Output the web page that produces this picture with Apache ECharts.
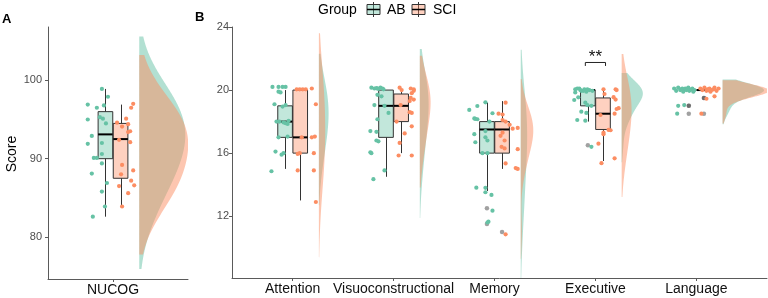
<!DOCTYPE html>
<html><head><meta charset="utf-8">
<script src="https://cdn.jsdelivr.net/npm/echarts@6/dist/echarts.min.js"></script>
<style>html,body{margin:0;padding:0;background:#fff}#c{width:768px;height:298px}</style>
</head><body><div id="c"></div>
<script>
// ---------------- data ----------------
const groups = ['AB', 'SCI'];
const categoriesA = ['NUCOG'];
const categoriesB = ['Attention', 'Visuoconstructional', 'Memory', 'Executive', 'Language'];
const yTicksA = [80, 90, 100];
const yTicksB = [12, 16, 20, 24];

// individual scores as seen (jittered) + horizontal jitter (hundredths of a category step)
const NUCOG_AB = [98.9, 97.9, 96.9, 96.8, 96.5, 95.3, 95.1, 95.0, 94.5, 92.9, 92.0, 91.9, 90.6, 90.1, 90.1, 89.4, 88.1, 86.9, 85.8, 83.9, 82.6];
const NUCOG_AB_jit = [-11, -5, -25, -9, -16, -13, -10, -25, -7, -21, -11, -25, -11, -19, -16, -11, -21, -6, -11, -8, -20];
const NUCOG_SCI = [97.0, 96.5, 95.1, 94.6, 94.4, 94.1, 93.5, 93.4, 92.4, 92.1, 89.2, 88.5, 88.0, 87.2, 86.6, 86.5, 85.6, 83.9];
const NUCOG_SCI_jit = [20, 18, 13, 4, 15, 9, 17, 15, 6, 17, 9, 20, 8, 18, 21, 6, 15, 9];

const ATT_AB = [20.2, 20.2, 20.2, 20.2, 19.9, 19.85, 19.1, 19.05, 18.95, 18.0, 18.0, 17.95, 17.9, 18.05, 17.85, 17.0, 17.05, 16.1, 16.0, 15.9, 14.85];
const ATT_AB_jit = [-20, -14, -10, -7, -14, -12, -18, -7, -10, -16, -13, -9, -7, -4, -5, -14, -5, -17, -9, -11, -21];
const ATT_SCI = [20.05, 20.05, 20.05, 20.05, 20.1, 19.1, 17.05, 17.0, 17.0, 16.0, 15.95, 16.0, 14.9, 14.9, 12.9];
const ATT_SCI_jit = [4, 7, 10, 13, 19, 23, 22, 19, 9, 7, 5, 21, 5, 21, 23];

const VIS_AB = [20.15, 20.1, 20.12, 20.08, 20.15, 20.1, 20.05, 20.1, 19.7, 19.6, 19.05, 19.0, 18.55, 18.15, 17.4, 17.35, 16.8, 16.75, 16.05, 16.0, 14.9, 14.35];
const VIS_AB_jit = [-22, -19, -17, -15, -13, -11, -10, -16, -16, -12, -19, -9, -5, -16, -23, -17, -17, -15, -23, -22, -9, -20];
const VIS_SCI = [20.15, 20.1, 20.05, 20.0, 19.95, 19.8, 19.5, 19.4, 19.3, 19.05, 18.6, 18.55, 18.0, 17.7, 17.25, 16.65, 15.85, 15.85];
const VIS_SCI_jit = [6, 17, 20, 8, 20, 18, 17, 20, 16, 7, 16, 18, 3, 18, 11, 6, 5, 18];

const MEM_AB = [19.22, 18.99, 18.74, 18.53, 18.2, 18.17, 18.15, 18.0, 17.4, 17.2, 17.0, 16.8, 16.69, 16.0, 16.0, 13.81, 13.8, 13.52, 13.35, 12.35, 11.65, 11.6];
const MEM_AB_jit = [-9, -17, -25, -2, -20, -19, -17, -5, -9, -20, -9, -7, -19, -7, -12, -18, -9, -9, -3, -2, -6, -7];
const MEM_SCI = [19.2, 18.5, 18.45, 18.1, 18.0, 17.8, 17.6, 17.55, 17.3, 17.1, 16.8, 16.4, 16.3, 16.25, 15.35, 15.0, 15.05, 10.85];
const MEM_SCI_jit = [11, 4, 8, 8, 11, 15, 23, 18, 8, 6, 10, 7, 10, 23, 11, 23, 21, 11];

const EXE_AB = [20.05, 20.1, 20.0, 19.95, 20.05, 20.0, 19.95, 19.85, 19.9, 20.1, 19.95, 20.05, 19.54, 19.37, 19.2, 19.05, 19.0, 18.63, 18.55, 18.1, 18.06, 16.4];
const EXE_AB_jit = [-20, -18, -15, -14, -11, -6, -3, -20, -9, -16, -12, -8, -17, -21, -10, -8, -4, -14, -9, -18, -10, -4];
const EXE_SCI = [20.05, 20.05, 20.0, 19.75, 19.55, 19.4, 18.85, 18.8, 18.5, 18.42, 17.47, 17.45, 17.3, 17.2, 16.6, 15.67, 15.36];
const EXE_SCI_jit = [8, 20, 21, 9, 18, 20, 23, 21, 19, 5, 13, 15, 8, 8, 3, 19, 6];

const LAN_AB = [20.1, 19.95, 20.15, 20.0, 20.05, 19.9, 20.1, 20.0, 20.15, 19.95, 20.05, 20.1, 19.9, 20.0, 20.1, 20.05, 19.0, 19.05, 18.5];
const LAN_AB_jit = [-22, -20, -18, -16, -15, -13, -11, -10, -8, -7, -5, -4, -3, -2, -14, -9, -18, -12, -19];
const LAN_SCI = [20.1, 20.0, 20.15, 19.95, 20.05, 20.1, 19.9, 20.0, 20.05, 20.15, 19.95, 20.1, 20.0, 19.6, 19.45, 18.5];
const LAN_SCI_jit = [4, 6, 8, 10, 11, 13, 14, 15, 17, 18, 20, 22, 12, 18, 10, 5];

// boxplot statistics: [lower whisker, Q1, median, Q3, upper whisker]
const NUCOG_AB_box = [82.6, 90.0, 93.1, 96.0, 98.9];
const NUCOG_SCI_box = [83.9, 87.5, 92.5, 94.5, 96.9];
const ATT_AB_box = [15, 17, 18, 19, 20];
const ATT_SCI_box = [13, 16, 17, 20, 20];
const VIS_AB_box = [14.5, 17, 19, 20, 20];
const VIS_SCI_box = [16, 18, 19, 19.75, 20];
const MEM_AB_box = [13.6, 16, 17.5, 18, 19.2];
const MEM_SCI_box = [15, 16, 17.5, 18, 19.3];
const EXE_AB_box = [18, 19, 20, 20, 20];
const EXE_SCI_box = [15.5, 17.5, 18.5, 19.5, 20];
const LAN_AB_box = [20, 20, 20, 20, 20];
const LAN_SCI_box = [20, 20, 20, 20, 20];

// outliers
const MEM_AB_out = [12.5, 11.5];
const MEM_SCI_out = [11.0];
const EXE_AB_out = [16.5];
const LAN_AB_out = [19, 19, 18.5];
const LAN_SCI_out = [19.5, 19.5, 18.5];

// significance
const SIG_CATEGORY = 'Executive';
const SIG_LABEL = '**';

// ---------------- build ----------------
const COL = ['#66C2A5', '#FC8D62'];
const FILL_BOX = ['rgba(102,194,165,0.4)', 'rgba(252,141,98,0.4)'];
const FILL_VIO = ['rgba(102,194,165,0.5)', 'rgba(252,141,98,0.5)'];
const FONT = "'Liberation Sans', Arial, sans-serif";
const ADJUST = 2; // density bandwidth adjustment (as in the raincloud recipe)

const panels = [
  { cats: categoriesA, xmin: 0.356, xmax: 1.743, ymin: 74.65, ymax: 106.8, yticks: yTicksA, vw: 0.485,
    data: [[
      { v: NUCOG_AB, j: NUCOG_AB_jit, b: NUCOG_AB_box, o: [] },
      { v: NUCOG_SCI, j: NUCOG_SCI_jit, b: NUCOG_SCI_box, o: [] }]] },
  { cats: categoriesB, xmin: 0.399, xmax: 5.70, ymin: 8.08, ymax: 24, yticks: yTicksB, vw: 0.46,
    data: [
      [{ v: ATT_AB, j: ATT_AB_jit, b: ATT_AB_box, o: [] }, { v: ATT_SCI, j: ATT_SCI_jit, b: ATT_SCI_box, o: [] }],
      [{ v: VIS_AB, j: VIS_AB_jit, b: VIS_AB_box, o: [] }, { v: VIS_SCI, j: VIS_SCI_jit, b: VIS_SCI_box, o: [] }],
      [{ v: MEM_AB, j: MEM_AB_jit, b: MEM_AB_box, o: MEM_AB_out }, { v: MEM_SCI, j: MEM_SCI_jit, b: MEM_SCI_box, o: MEM_SCI_out }],
      [{ v: EXE_AB, j: EXE_AB_jit, b: EXE_AB_box, o: EXE_AB_out }, { v: EXE_SCI, j: EXE_SCI_jit, b: EXE_SCI_box, o: [] }],
      [{ v: LAN_AB, j: LAN_AB_jit, b: LAN_AB_box, o: LAN_AB_out }, { v: LAN_SCI, j: LAN_SCI_jit, b: LAN_SCI_box, o: LAN_SCI_out }]] }
];

function quantile(s, p) { const h = (s.length - 1) * p, l = Math.floor(h); return s[l] + (h - l) * ((s[Math.min(l + 1, s.length - 1)]) - s[l]); }
function kde(vals) {
  // scores are recorded in half points: remove the visual jitter before the density
  const x = vals.map(v => Math.round(v * 2) / 2).sort((a, b) => a - b);
  const n = x.length, mean = x.reduce((a, b) => a + b, 0) / n;
  const sd = Math.sqrt(x.reduce((a, b) => a + (b - mean) ** 2, 0) / (n - 1));
  const iqr = quantile(x, 0.75) - quantile(x, 0.25);
  let lo = Math.min(sd, iqr / 1.34); if (!lo) lo = sd || Math.abs(x[0]) || 1;
  const bw = 0.9 * lo * Math.pow(n, -0.2);
  const bwa = bw * ADJUST;
  const from = x[0] - 3 * bw, to = x[n - 1] + 3 * bw, N = 200;
  const ys = [], ds = [];
  for (let i = 0; i < N; i++) {
    const y = from + (to - from) * i / (N - 1);
    let s = 0; for (const xi of x) { const z = (y - xi) / bwa; s += Math.exp(-0.5 * z * z); }
    ys.push(y); ds.push(s / (n * bwa * Math.sqrt(2 * Math.PI)));
  }
  return { ys, ds };
}

const DODGE = 0.075, BOXW = 0.145, VOFF = 0.26;
const series = [];
const grids = [], xAxes = [], yAxes = [];
panels.forEach((P, pi) => {
  const left = pi === 0 ? 48 : 232, width = pi === 0 ? 140 : 535, height = pi === 0 ? 252 : 251;
  grids.push({ left, top: 27, width, height });
  xAxes.push({ type: 'value', gridIndex: pi, min: P.xmin, max: P.xmax,
    axisLine: { show: true, lineStyle: { color: '#5a5a5a', width: 1 } },
    axisTick: { show: true, length: 3, lineStyle: { color: '#5a5a5a' }, customValues: P.cats.map((c, i) => i + 1) },
    axisLabel: { show: true, margin: 4, color: '#111', fontSize: 14, fontFamily: FONT,
      customValues: P.cats.map((c, i) => i + 1), formatter: v => P.cats[Math.round(v) - 1] || '' },
    splitLine: { show: false } });
  yAxes.push({ type: 'value', gridIndex: pi, min: P.ymin, max: P.ymax,
    axisLine: { show: true, lineStyle: { color: '#5a5a5a', width: 1 } },
    axisTick: { show: true, length: 3, lineStyle: { color: '#5a5a5a' }, customValues: P.yticks },
    axisLabel: { show: true, margin: pi === 0 ? 6 : 3, color: '#4d4d4d', fontSize: 11, fontFamily: FONT, customValues: P.yticks },
    splitLine: { show: false } });

  // violins
  const vio = [];
  P.data.forEach((cat, ci) => cat.forEach((g, gi) => { const k = kde(g.v); vio.push({ cat: ci + 1, g: gi, ys: k.ys, ds: k.ds }); }));
  const maxD = Math.max(...vio.map(v => Math.max(...v.ds)));
  series.push({ type: 'custom', xAxisIndex: pi, yAxisIndex: pi, clip: true, z: 1,
    data: vio.map((v, i) => [v.cat, v.ys[0], i]), encode: { x: 0, y: 1 },
    renderItem: (params, api) => {
      const v = vio[api.value(2)];
      const x0 = v.cat + VOFF;
      const pts = [api.coord([x0, v.ys[0]])];
      for (let i = 0; i < v.ys.length; i++) pts.push(api.coord([x0 + v.ds[i] / maxD * P.vw, v.ys[i]]));
      pts.push(api.coord([x0, v.ys[v.ys.length - 1]]));
      return { type: 'polygon', shape: { points: pts }, style: { fill: FILL_VIO[v.g], stroke: null } };
    } });

  // boxes
  const boxes = [];
  P.data.forEach((cat, ci) => cat.forEach((g, gi) => boxes.push([ci + 1 + (gi === 0 ? -DODGE : DODGE), ...g.b, gi])));
  series.push({ type: 'custom', xAxisIndex: pi, yAxisIndex: pi, z: 2,
    data: boxes, encode: { x: 0, y: [1, 2, 3, 4, 5] },
    renderItem: (params, api) => {
      const x = api.value(0), lo = api.value(1), q1 = api.value(2), md = api.value(3), q3 = api.value(4), hi = api.value(5), g = api.value(6);
      const L = api.coord([x - BOXW / 2, q3]), R = api.coord([x + BOXW / 2, q1]);
      const c = api.coord([x, md]);
      const pLo = api.coord([x, lo]), pHi = api.coord([x, hi]);
      const cx = Math.round(c[0]) + 0.5;
      return { type: 'group', children: [
        { type: 'line', shape: { x1: cx, y1: L[1], x2: cx, y2: pHi[1] }, style: { stroke: '#333', lineWidth: 1 } },
        { type: 'line', shape: { x1: cx, y1: R[1], x2: cx, y2: pLo[1] }, style: { stroke: '#333', lineWidth: 1 } },
        { type: 'rect', shape: { x: L[0], y: L[1], width: R[0] - L[0], height: Math.max(R[1] - L[1], 0.01) },
          style: { fill: FILL_BOX[g], stroke: '#333', lineWidth: 1 } },
        { type: 'line', shape: { x1: L[0], y1: c[1], x2: R[0], y2: c[1] }, style: { stroke: '#000', lineWidth: 2 } }
      ] };
    } });

  // outliers
  const outs = [];
  P.data.forEach((cat, ci) => cat.forEach((g, gi) => g.o.forEach(v => outs.push([ci + 1 + (gi === 0 ? -DODGE : DODGE), v]))));
  series.push({ type: 'scatter', xAxisIndex: pi, yAxisIndex: pi, z: 3, symbolSize: 4.5, data: outs,
    itemStyle: { color: 'rgba(40,40,40,0.55)' }, silent: true });

  // points
  [0, 1].forEach(gi => {
    const pts = [];
    P.data.forEach((cat, ci) => { const g = cat[gi]; g.v.forEach((v, k) => pts.push([ci + 1 + g.j[k] / 100, v])); });
    series.push({ type: 'scatter', name: groups[gi], xAxisIndex: pi, yAxisIndex: pi, z: 4, symbolSize: 4.2, data: pts,
      itemStyle: { color: COL[gi], opacity: 1 }, silent: true });
  });
});

// significance bracket
const sigX = categoriesB.indexOf(SIG_CATEGORY) + 1;
series.push({ type: 'custom', xAxisIndex: 1, yAxisIndex: 1, z: 5, data: [[sigX, 21.75]], encode: { x: 0, y: 1 },
  renderItem: (params, api) => {
    const x = api.value(0), y = api.value(1);
    const a = api.coord([x - 0.1, y]), b = api.coord([x + 0.1, y]), d = api.coord([x, y - 0.22]);
    return { type: 'group', children: [
      { type: 'polyline', shape: { points: [[a[0], d[1]], [a[0], a[1]], [b[0], b[1]], [b[0], d[1]]] }, style: { stroke: '#222', lineWidth: 1, fill: null } },
      { type: 'text', x: (a[0] + b[0]) / 2, y: a[1] - 14, style: { text: SIG_LABEL, font: '17px ' + FONT, fill: '#111', align: 'center', verticalAlign: 'top' } }
    ] };
  } });

function legendKey(x, g) {
  return [
    { type: 'line', shape: { x1: x + 6.5, y1: 2, x2: x + 6.5, y2: 17 }, style: { stroke: '#333', lineWidth: 1 } },
    { type: 'rect', shape: { x: x, y: 4.5, width: 13, height: 10 }, style: { fill: FILL_BOX[g], stroke: '#333', lineWidth: 1 } },
    { type: 'line', shape: { x1: x, y1: 9.5, x2: x + 13, y2: 9.5 }, style: { stroke: '#000', lineWidth: 1.5 } }
  ];
}

const chart = echarts.init(document.getElementById('c'), null, { renderer: 'canvas' });
chart.setOption({
  animation: false,
  backgroundColor: '#fff',
  grid: grids, xAxis: xAxes, yAxis: yAxes, series,
  graphic: [
    { type: 'text', x: 2, y: 19, style: { text: 'A', font: 'bold 13px ' + FONT, fill: '#000', verticalAlign: 'middle' } },
    { type: 'text', x: 195, y: 17.5, style: { text: 'B', font: 'bold 13px ' + FONT, fill: '#000', verticalAlign: 'middle' } },
    { type: 'text', x: 12, y: 154, rotation: Math.PI / 2, style: { text: 'Score', font: '14px ' + FONT, fill: '#000', align: 'center', verticalAlign: 'middle' } },
    { type: 'text', x: 318, y: 10, style: { text: 'Group', font: '14px ' + FONT, fill: '#000', verticalAlign: 'middle' } },
    ...legendKey(367, 0),
    { type: 'text', x: 387, y: 10, style: { text: groups[0], font: '14px ' + FONT, fill: '#000', verticalAlign: 'middle' } },
    ...legendKey(412, 1),
    { type: 'text', x: 433, y: 10, style: { text: groups[1], font: '14px ' + FONT, fill: '#000', verticalAlign: 'middle' } }
  ]
});
</script></body></html>
